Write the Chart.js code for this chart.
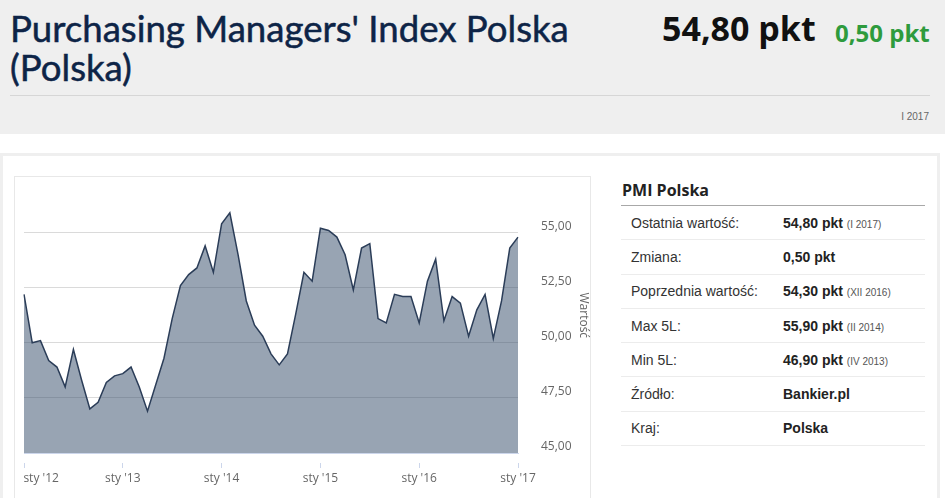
<!DOCTYPE html>
<html lang="pl">
<head>
<meta charset="utf-8">
<script src="https://cdn.jsdelivr.net/npm/chart.js@4.4.1/dist/chart.umd.min.js"></script>
<style>
  body { margin: 0; width: 945px; height: 498px; overflow: hidden; background: #fff; position: relative; font-family: "Liberation Sans", Arial, sans-serif; }
  #header { position: absolute; left: 0; top: 0; width: 945px; height: 134px; background: #efefef; }
  #title { position: absolute; left: 10px; top: 9px; margin: 0; font: 400 36.6px/39px Lato, sans-serif; color: #0d2447; -webkit-text-stroke: 0.5px #0d2447; }
  #value { position: absolute; left: 662px; top: 9px; font: 700 34px/39px "Open Sans", sans-serif; color: #111; }
  #change { position: absolute; left: 835px; top: 18px; font: 700 24px/30px "Open Sans", sans-serif; color: #2e9b3d; }
  #hr { position: absolute; left: 10px; top: 95px; width: 920px; height: 1px; background: #d6d6d6; }
  #period { position: absolute; right: 16px; top: 111px; font-size: 10px; color: #666; }
  #panel { position: absolute; left: 0; top: 153px; width: 940px; height: 360px; box-sizing: border-box; border: 3px solid #efefef; border-bottom: none; }
  #chartBox { position: absolute; left: 14px; top: 176px; width: 577px; height: 340px; box-sizing: border-box; border: 1px solid #e8e8e8; }
  #chartWrap { position: absolute; left: -20px; top: 177px; width: 611px; height: 321px; }
  #side { position: absolute; left: 621px; top: 176px; width: 304px; }
  #side h3 { margin: 0; font: 700 16px/28px "Open Sans", sans-serif; color: #222; padding-left: 1px; border-bottom: 1px solid #a8a8a8; height: 29px; }
  .row { height: 34.3px; box-sizing: border-box; border-bottom: 1px solid #ececec; display: flex; align-items: center; font-size: 14px; color: #333; }
  .row .lbl { width: 152px; padding-left: 10px; }
  .row .val { font-weight: 700; color: #222; }
  .row .note { font-size: 10px; font-weight: 400; color: #555; }
</style>
</head>
<body>
<div id="header">
  <h1 id="title">Purchasing Managers' Index Polska<br>(Polska)</h1>
  <div id="value">54,80 pkt</div>
  <div id="change">0,50 pkt</div>
  <div id="hr"></div>
  <div id="period">I 2017</div>
</div>
<div id="panel"></div>
<div id="chartBox"></div>
<div id="chartWrap"><canvas id="myChart"></canvas></div>
<div id="side">
  <h3>PMI Polska</h3>
  <div id="rows"></div>
</div>
<script>
const monthNames = ["sty", "lut", "mar", "kwi", "maj", "cze", "lip", "sie", "wrz", "paź", "lis", "gru"];
const years = ["2012", "2013", "2014", "2015", "2016", "2017"];
const tickLabels = ["sty '12", "sty '13", "sty '14", "sty '15", "sty '16", "sty '17"];
const yTicks = [45, 47.5, 50, 52.5, 55];

// PMI, sty 2012 - sty 2017
const pmi = [
  52.2, 50.0, 50.1, 49.2, 48.9, 48.0, 49.7, 48.3, 47.0, 47.3, 48.2, 48.5,
  48.6, 48.9, 48.0, 46.9, 48.1, 49.3, 51.1, 52.6, 53.1, 53.4, 54.4, 53.2,
  55.4, 55.9, 54.0, 51.9, 50.8, 50.3, 49.5, 49.0, 49.5, 51.3, 53.2, 52.8,
  55.2, 55.1, 54.8, 54.0, 52.4, 54.3, 54.5, 51.1, 50.9, 52.2, 52.1, 52.1,
  50.9, 52.8, 53.8, 51.0, 52.1, 51.8, 50.3, 51.5, 52.2, 50.2, 51.9, 54.3,
  54.8
];

const infoLabels = ["Ostatnia wartość:", "Zmiana:", "Poprzednia wartość:", "Max 5L:", "Min 5L:", "Źródło:", "Kraj:"];
const infoValues = ["54,80 pkt", "0,50 pkt", "54,30 pkt", "55,90 pkt", "46,90 pkt", "Bankier.pl", "Polska"];
const infoNotes = ["(I 2017)", "", "(XII 2016)", "(II 2014)", "(IV 2013)", "", ""];

const rows = document.getElementById("rows");
infoLabels.forEach((lbl, i) => {
  const row = document.createElement("div");
  row.className = "row";
  row.innerHTML = `<span class="lbl">${lbl}</span><span class="val">${infoValues[i]}` +
    (infoNotes[i] ? ` <span class="note">${infoNotes[i]}</span>` : "") + `</span>`;
  rows.appendChild(row);
});

const labels = [];
years.forEach(y => monthNames.forEach(m => labels.push(`${m} ${y}`)));
labels.length = pmi.length;

// first label sits to the right of its tick, like in the original
const meas = document.createElement("canvas").getContext("2d");
meas.font = '12px "Open Sans"';
const pad = "\u00a0".repeat(Math.round(meas.measureText(tickLabels[0]).width / meas.measureText("\u00a0").width));

const ctx = document.getElementById("myChart").getContext("2d");
new Chart(ctx, {
  type: "line",
  data: {
    labels: labels,
    datasets: [{
      label: "Wartość",
      data: pmi,
      borderColor: "#2b3d58",
      borderWidth: 1.5,
      backgroundColor: "rgba(50, 74, 104, 0.5)",
      fill: "start",
      pointRadius: 0,
      tension: 0
    }]
  },
  options: {
    responsive: true,
    maintainAspectRatio: false,
    animation: false,
    layout: { padding: { left: 44, top: 0, right: 0, bottom: 0 } },
    plugins: { legend: { display: false }, tooltip: { enabled: false } },
    scales: {
      x: {
        z: 1,
        offset: false,
        border: { display: true, color: "#ccd6eb", width: 1 },
        grid: {
          drawOnChartArea: false,
          drawTicks: true,
          tickLength: 15,
          tickBorderDash: [0, 9, 6, 50],
          color: c => (c.index % 12 === 0 ? "#ccd6eb" : "rgba(0,0,0,0)")
        },
        ticks: {
          autoSkip: false,
          maxRotation: 0,
          minRotation: 0,
          padding: 3,
          color: "#666",
          font: { family: "Open Sans", size: 12 },
          callback: (v, i) => (i % 12 === 0 ? (i === 0 ? pad + tickLabels[0] : tickLabels[i / 12]) : "")
        },
        afterFit: s => { s.height = 45; }
      },
      y: {
        position: "right",
        min: 45,
        max: 57.5,
        border: { display: false },
        // invisible tick marks push the labels away from the plot
        grid: { color: "#dadada", drawTicks: true, tickLength: 23, tickColor: "rgba(0,0,0,0)" },
        ticks: {
          stepSize: 2.5,
          padding: 0,
          labelOffset: -6,
          color: "#666",
          font: { family: "Open Sans", size: 12, lineHeight: 0.1 },
          callback: v => v.toFixed(2).replace(".", ",")
        },
        afterBuildTicks: s => { s.ticks = yTicks.map(v => ({ value: v })); },
        title: {
          display: true,
          text: "Wartość",
          color: "#666",
          font: { family: "Open Sans", size: 12 },
          padding: { top: 0, bottom: 0 }
        },
        afterFit: s => { s.width = 73; }
      }
    }
  }
});
</script>
</body>
</html>
